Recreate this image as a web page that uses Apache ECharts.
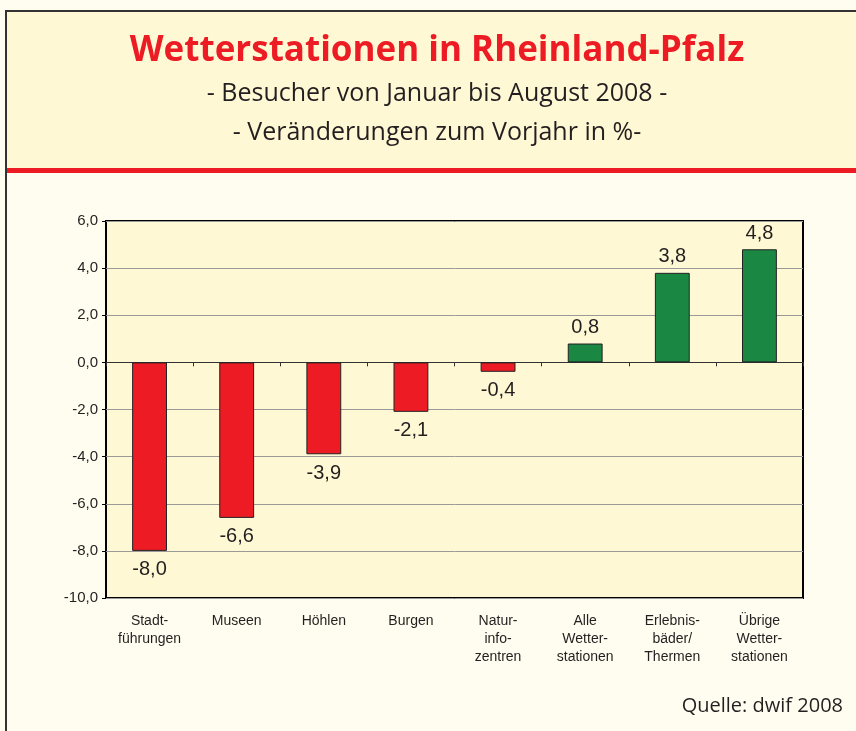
<!DOCTYPE html>
<html>
<head>
<meta charset="utf-8">
<script src="https://cdn.jsdelivr.net/npm/echarts@6/dist/echarts.min.js"></script>
<style>
  html, body { margin: 0; padding: 0; background: #fffdf0; }
  #chart { width: 856px; height: 731px; }
</style>
</head>
<body>
<div id="chart"></div>
<script>
// Kategorien (Zeilenumbrüche wie im Original)
const categories = [
  'Stadt-\nführungen', 'Museen', 'Höhlen', 'Burgen',
  'Natur-\ninfo-\nzentren', 'Alle\nWetter-\nstationen',
  'Erlebnis-\nbäder/\nThermen', 'Übrige\nWetter-\nstationen'
];
// Veränderung zum Vorjahr in %
const values = [-8.0, -6.6, -3.9, -2.1, -0.4, 0.8, 3.8, 4.8];
const yTicks = { min: -10, max: 6, interval: 2 };

const fmt = v => v.toFixed(1).replace('.', ',');

const chart = echarts.init(document.getElementById('chart'));
chart.setOption({
  backgroundColor: '#fffdf0',
  animation: false,
  graphic: [
    // Kopfbereich
    { type: 'rect', shape: { x: 6, y: 11, width: 860, height: 157 },
      style: { fill: '#fff8d4', stroke: null }, z: -10 },
    { type: 'rect', shape: { x: 6, y: 168, width: 860, height: 5 },
      style: { fill: '#ed1c24' }, z: -9 },
    // Rahmen
    { type: 'rect', shape: { x: 6, y: 11, width: 860, height: 740 },
      style: { fill: null, stroke: '#333', lineWidth: 2 }, z: -8 },
    { type: 'text', x: 437, y: 51,
      style: { text: 'Wetterstationen in Rheinland-Pfalz', fill: '#ed1c24',
        align: 'center', verticalAlign: 'middle',
        font: 'bold 35px "Open Sans", sans-serif' } },
    { type: 'text', x: 437, y: 94,
      style: { text: '- Besucher von Januar bis August 2008 -', fill: '#231f20',
        align: 'center', verticalAlign: 'middle',
        font: '25px "Open Sans", sans-serif' } },
    { type: 'text', x: 437, y: 133,
      style: { text: '- Veränderungen zum Vorjahr in %-', fill: '#231f20',
        align: 'center', verticalAlign: 'middle',
        font: '25px "Open Sans", sans-serif' } },
    { type: 'text', right: 13, top: 696,
      style: { text: 'Quelle: dwif 2008', fill: '#231f20',
        font: '500 20px "Open Sans", sans-serif' } }
  ],
  grid: {
    left: 106, right: 53, top: 221, bottom: 133,
    show: true, backgroundColor: '#fff8d5', borderColor: '#000', borderWidth: 2
  },
  xAxis: [
    {
      type: 'category', data: categories,
      axisLine: { onZero: true, lineStyle: { color: '#333', width: 1 } },
      axisTick: { show: true, inside: false, length: 4, lineStyle: { color: '#333' } },
      axisLabel: { show: false }
    },
    {
      type: 'category', data: categories, position: 'bottom',
      axisLine: { show: false }, axisTick: { show: false },
      axisLabel: {
        interval: 0, color: '#231f20', fontSize: 14, lineHeight: 18, margin: 14,
        fontFamily: '"Liberation Sans", Arial, sans-serif'
      }
    }
  ],
  yAxis: {
    type: 'value', min: yTicks.min, max: yTicks.max, interval: yTicks.interval,
    axisLine: { show: false },
    axisTick: { show: true, length: 4, lineStyle: { color: '#000' } },
    axisLabel: { color: '#231f20', fontSize: 15, margin: 8,
      fontFamily: '"Liberation Sans", Arial, sans-serif', formatter: fmt },
    splitLine: { lineStyle: { color: '#9a9a9a', width: 1 } }
  },
  series: [{
    type: 'bar',
    xAxisIndex: 0,
    barWidth: '40%',
    data: values.map(v => ({
      value: v,
      itemStyle: { color: v < 0 ? '#ed1c24' : '#1a8743', borderColor: '#222', borderWidth: 1 },
      label: { position: v < 0 ? 'bottom' : 'top', distance: v < 0 ? 9 : 6 }
    })),
    label: {
      show: true, color: '#231f20', fontSize: 20,
      fontFamily: '"Liberation Sans", Arial, sans-serif',
      formatter: p => fmt(p.value)
    }
  }]
});
window.addEventListener('resize', () => chart.resize());
</script>
</body>
</html>
